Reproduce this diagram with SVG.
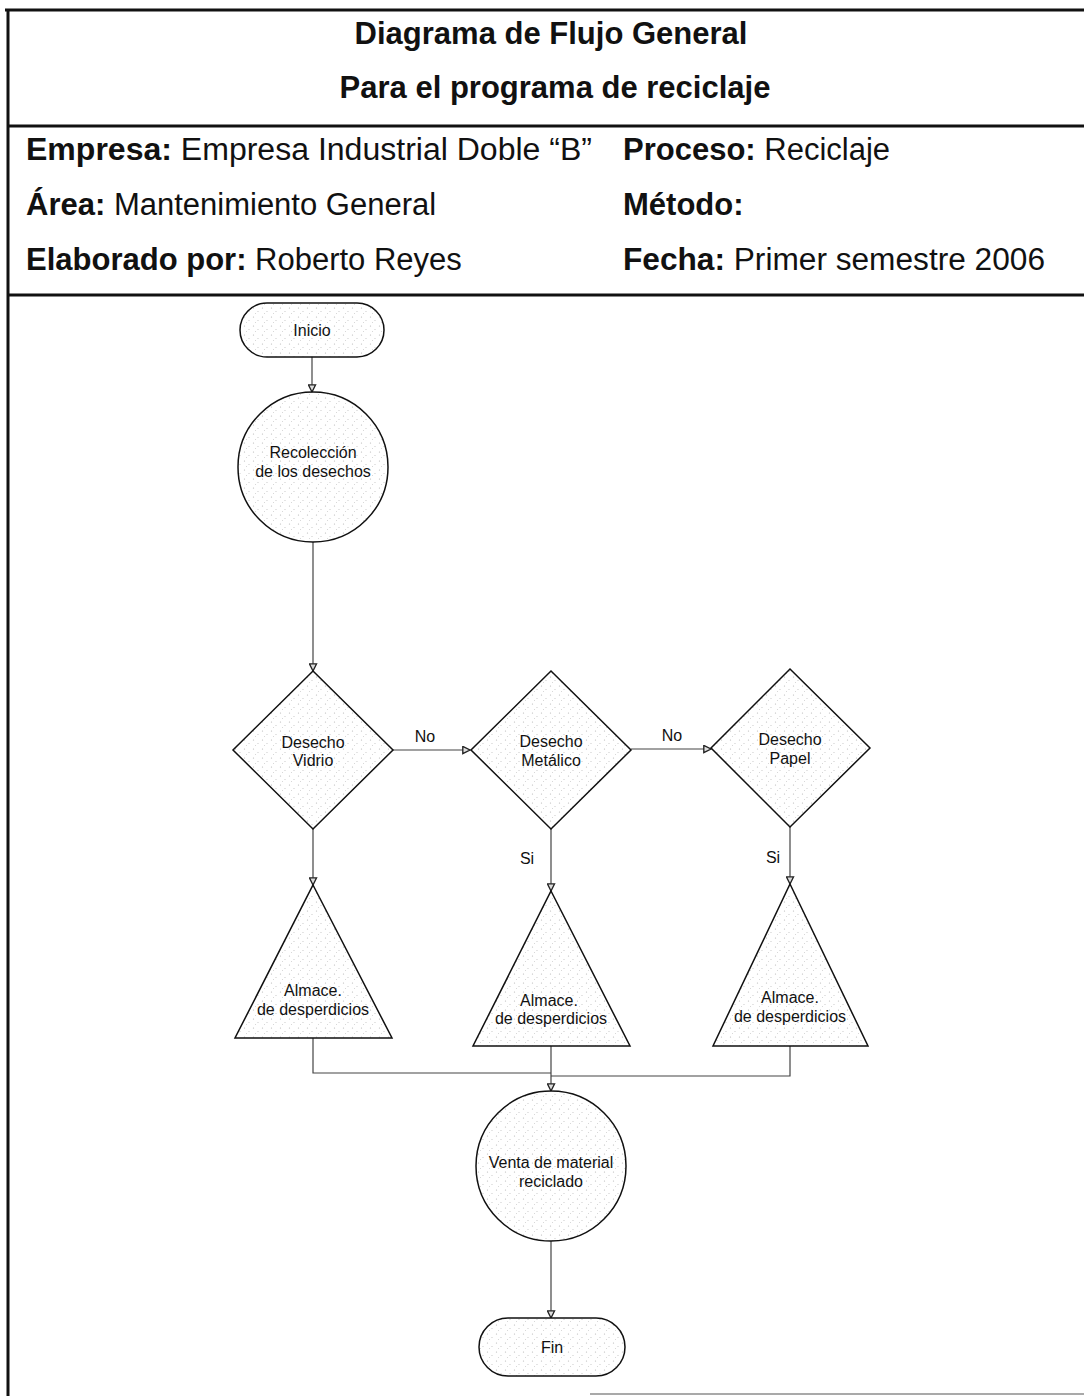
<svg xmlns="http://www.w3.org/2000/svg" width="1084" height="1396" viewBox="0 0 1084 1396">
  <style>
    .frame { stroke: #111; stroke-width: 3; fill: none; }
    .hdr { font-family: "Liberation Sans", Arial, sans-serif; font-size: 31px; fill: #111; }
    .b { font-weight: bold; }
    .shape { fill: url(#stipple); stroke: #111; stroke-width: 1.5; }
    .lbl { font-family: "Liberation Sans", Arial, sans-serif; font-size: 16px; fill: #111; text-anchor: middle; }
    .conn { stroke: #444; stroke-width: 1.2; fill: none; }
  </style>
  <defs>
    <pattern id="stipple" width="9" height="9" patternUnits="userSpaceOnUse">
      <rect width="9" height="9" fill="#ffffff"/>
      <circle cx="1.5" cy="2" r="0.6" fill="#b5b5b5"/>
      <circle cx="6" cy="5.5" r="0.6" fill="#c5c5c5"/>
      <circle cx="3.5" cy="7.5" r="0.5" fill="#cccccc"/>
    </pattern>
    <marker id="arr" viewBox="0 0 10 10" refX="9" refY="5" markerWidth="9" markerHeight="9" orient="auto" markerUnits="userSpaceOnUse">
      <path d="M1,1 L9,5 L1,9 Z" fill="#ddd" stroke="#222" stroke-width="1.5"/>
    </marker>
  </defs>

  <rect width="1084" height="1396" fill="#ffffff"/>

  <g id="header">
    <line class="frame" x1="5" y1="10" x2="1084" y2="10"/>
    <line class="frame" x1="8" y1="10" x2="8" y2="1396"/>
    <line class="frame" x1="8" y1="126" x2="1084" y2="126"/>
    <line class="frame" x1="8" y1="295" x2="1084" y2="295"/>
    <line x1="590" y1="1394" x2="1084" y2="1394" stroke="#555" stroke-width="1.2"/>
    <text class="hdr b" x="551" y="44" text-anchor="middle">Diagrama de Flujo General</text>
    <text class="hdr b" x="555" y="98" text-anchor="middle">Para el programa de reciclaje</text>
    <text class="hdr" x="26" y="160" textLength="566" lengthAdjust="spacingAndGlyphs"><tspan class="b">Empresa:</tspan> Empresa Industrial Doble “B”</text>
    <text class="hdr" x="26" y="215"><tspan class="b">Área:</tspan> Mantenimiento General</text>
    <text class="hdr" x="26" y="270"><tspan class="b">Elaborado por:</tspan> Roberto Reyes</text>
    <text class="hdr" x="623" y="160"><tspan class="b">Proceso:</tspan> Reciclaje</text>
    <text class="hdr" x="623" y="215"><tspan class="b">Método:</tspan></text>
    <text class="hdr" x="623" y="270" textLength="422" lengthAdjust="spacingAndGlyphs"><tspan class="b">Fecha:</tspan> Primer semestre 2006</text>
  </g>

  <g id="connectors">
    <line class="conn" x1="312" y1="357" x2="312" y2="392" marker-end="url(#arr)"/>
    <line class="conn" x1="313" y1="542" x2="313" y2="671" marker-end="url(#arr)"/>
    <line class="conn" x1="393" y1="750" x2="470" y2="750" marker-end="url(#arr)"/>
    <line class="conn" x1="631" y1="749" x2="711" y2="749" marker-end="url(#arr)"/>
    <line class="conn" x1="313" y1="829" x2="313" y2="885" marker-end="url(#arr)"/>
    <line class="conn" x1="551" y1="829" x2="551" y2="891" marker-end="url(#arr)"/>
    <line class="conn" x1="790" y1="827" x2="790" y2="884" marker-end="url(#arr)"/>
    <polyline class="conn" points="313,1038 313,1073 551,1073"/>
    <polyline class="conn" points="790,1046 790,1076 551,1076"/>
    <line class="conn" x1="551" y1="1046" x2="551" y2="1091" marker-end="url(#arr)"/>
    <line class="conn" x1="551" y1="1241" x2="551" y2="1318" marker-end="url(#arr)"/>
    <text class="lbl" x="425" y="742">No</text>
    <text class="lbl" x="672" y="741">No</text>
    <text class="lbl" x="527" y="864">Si</text>
    <text class="lbl" x="773" y="863">Si</text>
  </g>

  <g id="inicio">
    <rect class="shape" x="240" y="303" width="144" height="54" rx="27" ry="27"/>
    <text class="lbl" x="312" y="336">Inicio</text>
  </g>

  <g id="recoleccion">
    <circle class="shape" cx="313" cy="467" r="75"/>
    <text class="lbl" x="313" y="458">Recolección</text>
    <text class="lbl" x="313" y="477">de los desechos</text>
  </g>

  <g id="vidrio">
    <polygon class="shape" points="313,671 393,750 313,829 233,750"/>
    <text class="lbl" x="313" y="748">Desecho</text>
    <text class="lbl" x="313" y="766">Vidrio</text>
  </g>

  <g id="metalico">
    <polygon class="shape" points="551,671 631,750 551,829 471,750"/>
    <text class="lbl" x="551" y="747">Desecho</text>
    <text class="lbl" x="551" y="766">Metálico</text>
  </g>

  <g id="papel">
    <polygon class="shape" points="790,669 870,748 790,827 711,748"/>
    <text class="lbl" x="790" y="745">Desecho</text>
    <text class="lbl" x="790" y="764">Papel</text>
  </g>

  <g id="almacen1">
    <polygon class="shape" points="313,885 392,1038 235,1038"/>
    <text class="lbl" x="313" y="996">Almace.</text>
    <text class="lbl" x="313" y="1015">de desperdicios</text>
  </g>

  <g id="almacen2">
    <polygon class="shape" points="551,891 630,1046 473,1046"/>
    <text class="lbl" x="549" y="1006">Almace.</text>
    <text class="lbl" x="551" y="1024">de desperdicios</text>
  </g>

  <g id="almacen3">
    <polygon class="shape" points="790,884 868,1046 713,1046"/>
    <text class="lbl" x="790" y="1003">Almace.</text>
    <text class="lbl" x="790" y="1022">de desperdicios</text>
  </g>

  <g id="venta">
    <circle class="shape" cx="551" cy="1166" r="75"/>
    <text class="lbl" x="551" y="1168">Venta de material</text>
    <text class="lbl" x="551" y="1187">reciclado</text>
  </g>

  <g id="fin">
    <rect class="shape" x="479" y="1318" width="146" height="58" rx="29" ry="29"/>
    <text class="lbl" x="552" y="1353">Fin</text>
  </g>
</svg>
